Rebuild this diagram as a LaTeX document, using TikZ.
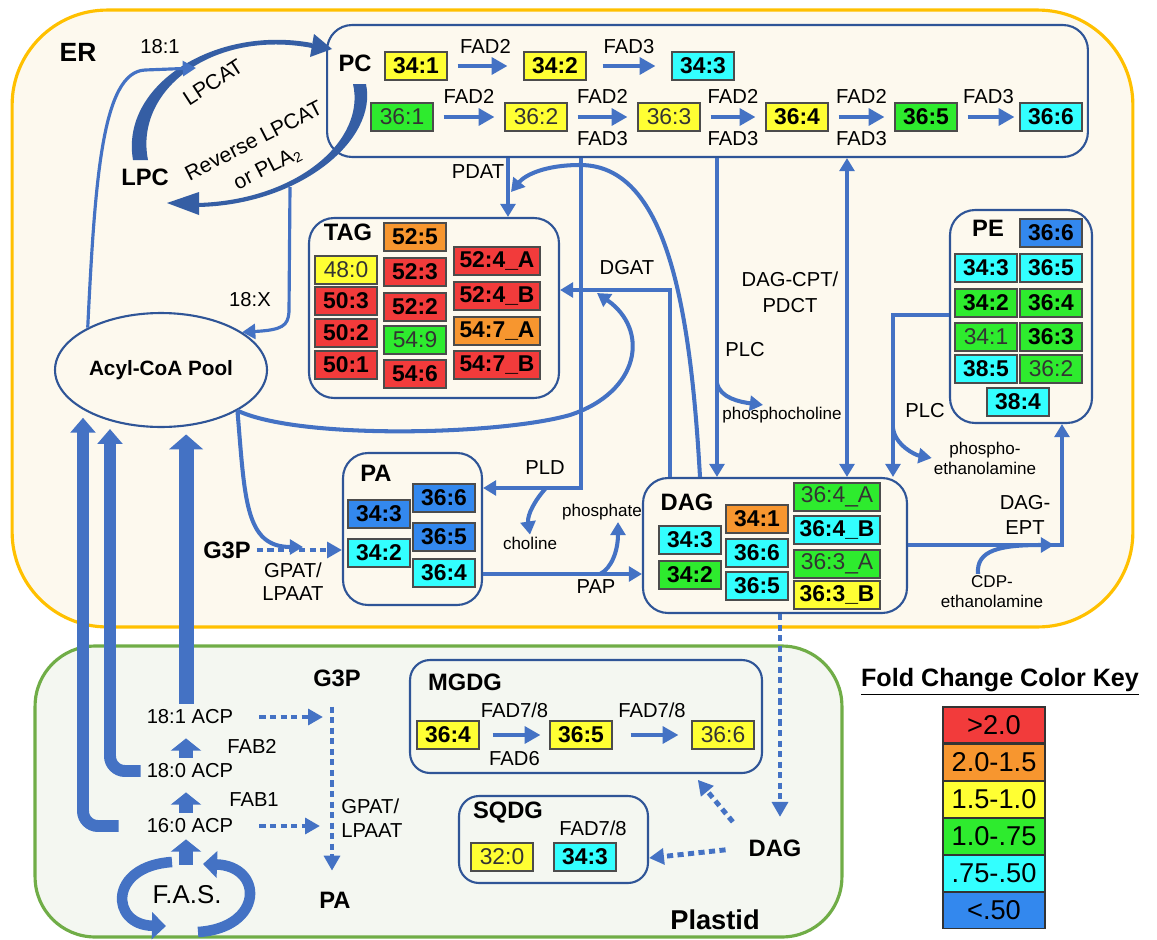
\documentclass[tikz,border=0pt]{standalone}
\usepackage{fontspec}
\setmainfont{Liberation Sans}
\usetikzlibrary{arrows.meta,positioning,shapes.geometric}

\definecolor{arrblue}{HTML}{4472C4}
\definecolor{boxblue}{HTML}{2F5597}
\definecolor{ergold}{HTML}{FFC000}
\definecolor{erfill}{HTML}{FDF9EE}
\definecolor{plgreen}{HTML}{70AD47}
\definecolor{plfill}{HTML}{F4F7F1}
\definecolor{kred}{HTML}{F23B3B}
\definecolor{korange}{HTML}{F7962F}
\definecolor{kyellow}{HTML}{FFFF33}
\definecolor{kgreen}{HTML}{2EEB2E}
\definecolor{kcyan}{HTML}{33FFFF}
\definecolor{kblue}{HTML}{3388EE}

\tikzset{
  comp/.style={draw=boxblue, line width=1.2pt, rounded corners=0.5cm, inner sep=0pt},
  lip/.style={draw=black!70, line width=0.6pt, minimum width=1.24cm, minimum height=0.56cm,
    inner sep=0pt, font=\fontsize{13}{15}\selectfont\bfseries},
  wide/.style={minimum width=1.72cm},
  nobold/.style={font=\fontsize{13}{15}\selectfont, text=black!80},
  fr/.style={fill=kred}, fo/.style={fill=korange}, fy/.style={fill=kyellow},
  fg/.style={fill=kgreen}, fc/.style={fill=kcyan}, fb/.style={fill=kblue},
  cname/.style={font=\fontsize{13.5}{16}\selectfont\bfseries},
  enz/.style={font=\fontsize{11.5}{14}\selectfont, align=center},
  prod/.style={font=\fontsize{9.7}{11.3}\selectfont, align=center, inner sep=1pt},
  conn/.style={draw=arrblue, line width=2.3pt, -{Triangle[length=7.5pt,width=8.5pt]}},
  fad/.style={conn, line width=2.8pt, -{Triangle[length=9pt,width=9.5pt]},
    shorten <=0.2cm, shorten >=0.2cm},
  dots/.style={draw=arrblue, line width=2.8pt, dash pattern=on 3.5pt off 2.5pt,
    -{Triangle[length=8.5pt,width=9pt]}},
  bigarr/.style={draw=arrblue, line width=6.8pt, rounded corners=0.3cm,
    -{Triangle[length=8.5pt,width=14pt]}, shorten >=0.16cm},
  fab/.style={draw=arrblue, line width=7.8pt, -{Triangle[length=7pt,width=17pt]}},
  fasarc/.style={draw=arrblue, line width=6pt, -{Triangle[length=8pt,width=15pt]}},
  cyc/.style={fill=boxblue!70!arrblue},
  keybox/.style={draw=black!80, line width=0.6pt, minimum width=2.04cm, minimum height=0.72cm,
    inner sep=0pt, font=\fontsize{15.5}{17}\selectfont},
}

\begin{document}
\begin{tikzpicture}[x=0.02cm,y=-0.02cm]
\useasboundingbox (0,0) rectangle (1157,940);

% compartments
\node[draw=ergold, line width=1.8pt, fill=erfill, rounded corners=1.9cm,
  minimum width=22.42cm, minimum height=12.34cm, inner sep=0pt] (ER) at (572.5,318.5) {};
\node[draw=plgreen, line width=1.8pt, fill=plfill, rounded corners=1.2cm,
  minimum width=16.14cm, minimum height=5.82cm, inner sep=0pt] (plastid) at (438.5,791.5) {};
\node[font=\fontsize{15}{18}\selectfont\bfseries] (erlbl) at (78,52) {ER};
\node[font=\fontsize{15.5}{18}\selectfont\bfseries] (pllbl) at (715,920) {Plastid};

\node[comp, minimum width=15.22cm, minimum height=2.64cm] (PC) at (707.5,91) {};
\node[comp, minimum width=5cm, minimum height=3.6cm] (TAG) at (434,308) {};
\node[comp, minimum width=2.84cm, minimum height=4.26cm] (PE) at (1021,316.5) {};
\node[comp, minimum width=2.78cm, minimum height=3.04cm] (PA) at (412.5,529) {};
\node[comp, minimum width=5.28cm, minimum height=2.7cm] (DAG) at (775,545.5) {};
\node[comp, minimum width=7.04cm, minimum height=2.26cm, rounded corners=0.4cm] (MGDG) at (586,716.5) {};
\node[comp, minimum width=3.78cm, minimum height=1.74cm, rounded corners=0.4cm] (SQDG) at (553.5,839.5) {};
\node[draw=boxblue, line width=1.2pt, ellipse, minimum width=4.24cm, minimum height=2.28cm,
  inner sep=0pt, font=\fontsize{11.8}{14}\selectfont\bfseries] (pool) at (161,370) {Acyl-CoA Pool};

\node[cname] (pclbl) at (355,63) {PC};
\node[cname] (lpclbl) at (145,177) {LPC};
\node[cname] (taglbl) at (348,232) {TAG};
\node[cname] (pelbl) at (988,228) {PE};
\node[cname] (palbl) at (376,473) {PA};
\node[cname] (daglbl) at (687,502) {DAG};
\node[cname] (mgdglbl) at (465,682) {MGDG};
\node[cname] (sqdglbl) at (508,813) {SQDG};
\node[cname] (g3per) at (227,550) {G3P};
\node[cname] (g3pp) at (337,678) {G3P};
\node[cname] (pap) at (335,900) {PA};
\node[cname] (pdag) at (775,848) {DAG};

% plastid fatty acids to the pool
\node[enz] (acp181) at (190,717) {18:1 ACP};
\node[enz] (acp180) at (190,771) {18:0 ACP};
\node[enz] (acp160) at (190,826) {16:0 ACP};
\node[font=\fontsize{14.7}{17}\selectfont] (fas) at (187,895) {F.A.S.};
\draw[bigarr, shorten <=0.44cm] (acp160.west) -| (pool.207);
\draw[bigarr] (acp180.west) -| (pool.225);
\draw[bigarr, line width=8.5pt, -{Triangle[length=8.5pt,width=19pt]}]
  (pool.-66 |- acp181.north) -- (pool.-66);
\draw[fab, shorten <=0.3cm] (186,0 |- fas.north) -- (186,0 |- acp160.south);
\draw[fab, shorten >=0.16cm] (186,0 |- acp160.north) -- (186,0 |- acp180.south);
\draw[fab, shorten >=0.16cm] (186,0 |- acp180.north) -- (186,0 |- acp181.south);
\draw[fasarc] (172,862) .. controls (108,866) and (110,925) .. (166,926);
\draw[fasarc] (198,932) .. controls (264,928) and (264,866) .. (203,864);
\node[enz] (fab2) at (252,746) {FAB2};
\node[enz] (fab1) at (254,800) {FAB1};
\draw[dots, shorten <=0.4cm] (acp181.east) -- (323,0 |- acp181);
\draw[dots, shorten <=0.4cm] (acp160.east) -- (320,0 |- acp160);
\draw[dots, shorten <=0.28cm, shorten >=0.3cm] (332,0 |- g3pp.south) -- (332,0 |- pap.north);
\node[enz, align=left, font=\fontsize{11.5}{14}\selectfont] (gpatp) at (372,818) {GPAT/\\LPAAT};

% PC species
\node[lip,fy] (pc341) at (416,66) {34:1};
\node[lip,fy] (pc342) at (555,66) {34:2};
\node[lip,fc] (pc343) at (703,66) {34:3};
\node[lip,fg,nobold] (pc361) at (402,117) {36:1};
\node[lip,fy,nobold] (pc362) at (536,117) {36:2};
\node[lip,fy,nobold] (pc363) at (669,117) {36:3};
\node[lip,fy] (pc364) at (797,117) {36:4};
\node[lip,fg] (pc365) at (926,117) {36:5};
\node[lip,fc] (pc366) at (1051,117) {36:6};
\draw[fad, shorten >=0.32cm] (pc341) -- (pc342) node[midway, above=2.5pt, enz] (f1) {FAD2};
\draw[fad, shorten <=0.32cm, shorten >=0.32cm] (pc342) -- (pc343) node[midway, above=2.5pt, enz] (f2) {FAD3};
\draw[fad] (pc361) -- (pc362) node[midway, above=3pt, enz] (f3) {FAD2};
\draw[fad] (pc362) -- (pc363) node[midway, above=3pt, enz] (f4) {FAD2}
  node[midway, below=3.5pt, enz] (f5) {FAD3};
\draw[fad] (pc363) -- (pc364) node[midway, above=3pt, enz] (f6) {FAD2}
  node[midway, below=3.5pt, enz] (f7) {FAD3};
\draw[fad] (pc364) -- (pc365) node[midway, above=3pt, enz] (f8) {FAD2}
  node[midway, below=3.5pt, enz] (f9) {FAD3};
\draw[fad, shorten >=0.1cm] (pc365) -- (pc366) node[midway, above=3pt, enz] (f10) {FAD3};

% TAG species
\node[lip,fy,nobold] (t480) at (346,270) {48:0};
\node[lip,fr] (t503) at (346,301) {50:3};
\node[lip,fr] (t502) at (346,333) {50:2};
\node[lip,fr] (t501) at (346,365) {50:1};
\node[lip,fo] (t525) at (415,237) {52:5};
\node[lip,fr] (t523) at (415,272) {52:3};
\node[lip,fr] (t522) at (415,307) {52:2};
\node[lip,fg,nobold] (t549) at (415,340) {54:9};
\node[lip,fr] (t546) at (415,374) {54:6};
\node[lip,fr,wide] (t524a) at (497,261) {52:4\_A};
\node[lip,fr,wide] (t524b) at (497,296) {52:4\_B};
\node[lip,fo,wide] (t547a) at (497,331) {54:7\_A};
\node[lip,fr,wide] (t547b) at (497,365) {54:7\_B};

% PE species
\node[lip,fb] (pe366) at (1051,233) {36:6};
\node[lip,fc] (pe343) at (986,268) {34:3};
\node[lip,fc] (pe365) at (1051,268) {36:5};
\node[lip,fg] (pe342) at (986,303) {34:2};
\node[lip,fg] (pe364) at (1051,303) {36:4};
\node[lip,fg,nobold] (pe341) at (986,337) {34:1};
\node[lip,fg] (pe363) at (1051,337) {36:3};
\node[lip,fc] (pe385) at (986,369) {38:5};
\node[lip,fg,nobold] (pe362) at (1051,369) {36:2};
\node[lip,fc] (pe384) at (1018,402) {38:4};

% PA species
\node[lip,fb] (pa366) at (444,498) {36:6};
\node[lip,fb] (pa343) at (379,514) {34:3};
\node[lip,fb] (pa365) at (444,537) {36:5};
\node[lip,fc] (pa342) at (379,553) {34:2};
\node[lip,fc] (pa364) at (444,573) {36:4};

% DAG species
\node[lip,fc] (d343) at (690,540) {34:3};
\node[lip,fg] (d342) at (690,575) {34:2};
\node[lip,fo] (d341) at (757,519) {34:1};
\node[lip,fc] (d366) at (757,553) {36:6};
\node[lip,fc] (d365) at (757,586) {36:5};
\node[lip,fg,nobold,wide] (d364a) at (837,497) {36:4\_A};
\node[lip,fc,wide] (d364b) at (837,530) {36:4\_B};
\node[lip,fg,nobold,wide] (d363a) at (837,564) {36:3\_A};
\node[lip,fy,wide] (d363b) at (837,595) {36:3\_B};

% galactolipids
\node[lip,fy] (m364) at (448,735) {36:4};
\node[lip,fy] (m365) at (581,735) {36:5};
\node[lip,fy,nobold] (m366) at (723,735) {36:6};
\draw[fad, shorten <=0.26cm, shorten >=0.18cm] (m364) -- (m365)
  node[midway, above=5pt, enz] (f11) {FAD7/8} node[midway, below=4.5pt, enz] (f12) {FAD6};
\draw[fad, shorten <=0.36cm, shorten >=0.26cm] (m365) -- (m366)
  node[midway, above=5pt, enz] (f13) {FAD7/8};
\node[lip,fy,nobold] (s320) at (502,857) {32:0};
\node[lip,fc] (s343) at (585,857) {34:3};
\node[enz] (f14) at (593,828) {FAD7/8};

% LPC / PC cycle
\fill[cyc] (133,160) .. controls (120,85) and (215,25) .. (312,43) -- (312,48)
  .. controls (213,29) and (134,90) .. (148,160) -- cycle;
\fill[cyc] (314,34) -- (332,49) -- (310,57) -- cycle;
\fill[cyc] (366,84) .. controls (378,140) and (300,205) .. (198,207) -- (198,203)
  .. controls (298,200) and (366,140) .. (353,84) -- cycle;
\fill[cyc] (199,192) -- (167,203) -- (199,215) -- cycle;
\node[enz, font=\fontsize{12}{17}\selectfont, rotate=33] (lpcat) at (213,82) {LPCAT};
\node[enz, font=\fontsize{12}{17}\selectfont, rotate=27] (revlpcat) at (261,155)
  {Reverse LPCAT\\or PLA\textsubscript{2}};
\coordinate (arcjoin) at (196,68);
\coordinate (revmid) at (290,187);
\draw[conn, line width=1.8pt] (pool.150) .. controls (95,180) and (102,72) .. (145,70) -- (arcjoin);
\node[enz] (l181) at (160,47) {18:1};
\draw[conn, line width=1.8pt] (revmid) -- (289,312) .. controls (288,326) and (282,330) .. (pool.25);
\node[enz] (l18x) at (250,300) {18:X};

% pool to PA and TAG
\coordinate (gpatjoin) at (303,547);
\coordinate (dgatjoin) at (597,293);
\draw[conn] (pool.-28) .. controls (245,500) and (245,547) .. (gpatjoin);
\draw[dots] (g3per.east) -- (g3per.east -| PA.west);
\node[enz, font=\fontsize{11.5}{13}\selectfont] (gpater) at (293,582) {GPAT/\\LPAAT};
\draw[conn] (pool.-28) .. controls (300,440) and (500,435) .. (570,415)
  .. controls (640,392) and (650,330) .. (dgatjoin);

% PC, TAG, PA, DAG, PE
\draw[conn] (508,0 |- PC.south) -- (508,0 |- TAG.north);
\node[enz] (pdat) at (478,172) {PDAT};
\coordinate (pdatjoin) at (511,192);
\draw[conn] (700,0 |- DAG.north) .. controls (690,300) and (665,165) .. (580,165)
  .. controls (545,165) and (525,175) .. (pdatjoin);
\draw[conn] (670,0 |- DAG.north) |- (TAG.east |- 0,290);
\node[enz] (dgat) at (627,268) {DGAT};
\draw[conn] (581,0 |- PC.south) |- (PA.east |- 0,488);
\node[enz] (pld) at (545,468) {PLD};
\node[prod] (choline) at (530,543) {choline};
\draw[conn] (546,488) .. controls (535,500) and (527,515) .. (choline.north);
\draw[conn] (717,0 |- PC.south) -- (717,0 |- DAG.north);
\node[enz] (plc1) at (745,350) {PLC};
\node[prod] (phch) at (782,415) {phosphocholine};
\draw[conn] (717,383) .. controls (720,398) and (740,402) .. (763,0 |- phch.north);
\draw[conn, {Triangle[length=7.5pt,width=8.5pt]}-{Triangle[length=7.5pt,width=8.5pt]}]
  (847,0 |- PC.south) -- (847,0 |- DAG.north);
\node[enz, font=\fontsize{11.5}{15}\selectfont] (dagcpt) at (790,292) {DAG-CPT/\\PDCT};
\draw[conn] (PE.west |- 0,315) -| (893,0 |- DAG.north);
\node[enz] (plc2) at (925,411) {PLC};
\node[prod] (phet) at (985,458) {phospho-\\ethanolamine};
\draw[conn] (893,428) .. controls (895,445) and (915,455) .. (phet.west);
\draw[conn] (DAG.east |- 0,545) -| (1062,0 |- PE.south);
\node[enz, font=\fontsize{11.5}{14.5}\selectfont] (dagept) at (1025,515) {DAG-\\EPT};
\node[prod] (cdp) at (992,592) {CDP-\\ethanolamine};
\coordinate (eptjoin) at (1054,545);
\draw[conn] (978,0 |- cdp.north) .. controls (976,550) and (1000,545) .. (eptjoin);
\draw[conn] (PA.east |- 0,574) -- (DAG.west |- 0,574);
\node[enz] (papl) at (596,587) {PAP};
\node[prod] (phosph) at (602,512) {phosphate};
\draw[conn] (600,574) .. controls (612,568) and (618,550) .. (618,0 |- phosph.south);

% ER DAG to plastid
\draw[dots, shorten >=0.33cm] (780,0 |- DAG.south) -- (780,0 |- pdag.north);
\draw[dots, shorten <=0.34cm] (pdag.west) -- (SQDG.east |- 0,858);
\draw[dots, shorten <=0.3cm, shorten >=0.15cm] (pdag.north west) -- (693,0 |- MGDG.south);

% colour key
\node[font=\fontsize{14.3}{17}\selectfont\bfseries] (keytitle) at (1000,682) {\underline{Fold Change Color Key}};
\node[keybox, fill=kred] (k1) at (994,725) {>2.0};
\node[keybox, fill=korange, below=0pt of k1] (k2) {2.0-1.5};
\node[keybox, fill=kyellow, below=0pt of k2] (k3) {1.5-1.0};
\node[keybox, fill=kgreen, below=0pt of k3] (k4) {1.0-.75};
\node[keybox, fill=kcyan, below=0pt of k4] (k5) {.75-.50};
\node[keybox, fill=kblue, below=0pt of k5] (k6) {<.50};
\end{tikzpicture}
\end{document}
